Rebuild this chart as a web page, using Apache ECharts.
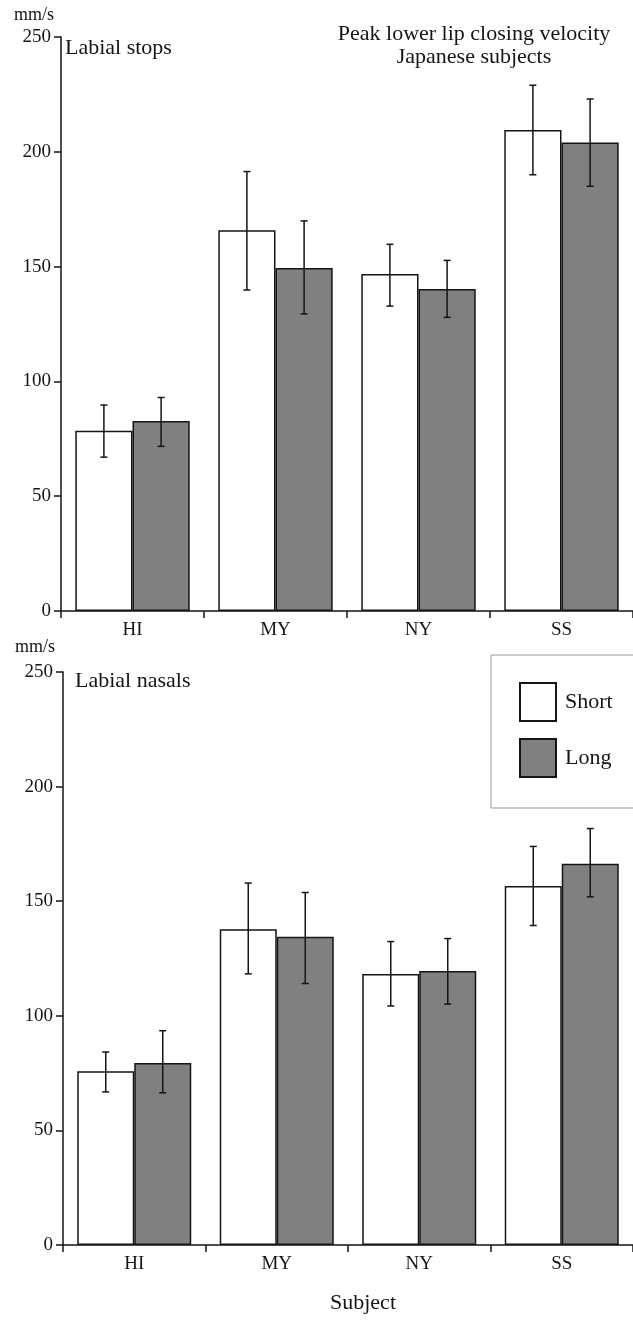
<!DOCTYPE html>
<html>
<head>
<meta charset="utf-8">
<script src="https://cdn.jsdelivr.net/npm/echarts@6/dist/echarts.min.js"></script>
<style>
  html, body { margin: 0; padding: 0; background: #fff; }
  #chart { width: 633px; height: 1320px; }
</style>
</head>
<body>
<div id="chart"></div>
<script>
// Peak lower lip closing velocity, Japanese subjects

var subjects = ['HI', 'MY', 'NY', 'SS'];
var yTicks = [0, 50, 100, 150, 200, 250];

// labial stops
var stopsShort = [78.5, 165.8, 146.8, 209.5];
var stopsShortLow = [67, 139.8, 132.8, 190];
var stopsShortHigh = [89.7, 191.4, 159.7, 229];
var stopsLong = [82.8, 149.4, 140.2, 204];
var stopsLongLow = [71.7, 129.4, 127.9, 185];
var stopsLongHigh = [93, 169.9, 152.7, 223];

// labial nasals
var nasalsShort = [75.8, 137.8, 118.2, 156.6];
var nasalsShortLow = [66.8, 118.3, 104.3, 139.4];
var nasalsShortHigh = [84.2, 157.9, 132.4, 173.9];
var nasalsLong = [79.4, 134.5, 119.6, 166.3];
var nasalsLongLow = [66.4, 114.1, 105.1, 151.9];
var nasalsLongHigh = [93.5, 153.8, 133.7, 181.7];

var FONT = '"Liberation Serif", "DejaVu Serif", serif';
var INK = '#151515';

function errData(low, high) {
    return low.map(function (v, i) { return [i, v, high[i]]; });
}

// side: -1 for the left bar, +1 for the right bar
function errRender(side) {
    return function (params, api) {
        var i = api.value(0);
        var lo = api.coord([i, api.value(1)]);
        var hi = api.coord([i, api.value(2)]);
        var cw = api.size([1, 0])[0];
        var cx = lo[0] + side * cw * 0.2;
        var cap = 3.5;
        var st = { stroke: INK, lineWidth: 1.5 };
        return {
            type: 'group',
            children: [
                { type: 'line', shape: { x1: cx, y1: hi[1], x2: cx, y2: lo[1] }, style: st },
                { type: 'line', shape: { x1: cx - cap, y1: hi[1], x2: cx + cap, y2: hi[1] }, style: st },
                { type: 'line', shape: { x1: cx - cap, y1: lo[1], x2: cx + cap, y2: lo[1] }, style: st }
            ]
        };
    };
}

function xAxis(idx) {
    return {
        type: 'category',
        gridIndex: idx,
        data: subjects,
        axisLine: { lineStyle: { color: INK, width: 1.5 } },
        axisTick: { show: true, length: 7, alignWithLabel: false, lineStyle: { color: INK, width: 1.5 } },
        axisLabel: { color: INK, fontSize: 19, fontFamily: FONT, margin: 10 }
    };
}

function yAxis(idx) {
    return {
        type: 'value',
        gridIndex: idx,
        min: yTicks[0],
        max: yTicks[yTicks.length - 1],
        interval: 50,
        axisLine: { show: true, lineStyle: { color: INK, width: 1.5 } },
        axisTick: { show: true, length: 7, lineStyle: { color: INK, width: 1.5 } },
        axisLabel: { color: INK, fontSize: 19, fontFamily: FONT, margin: 10 },
        splitLine: { show: false }
    };
}

function bars(name, data, idx, fill) {
    return {
        name: name,
        type: 'bar',
        xAxisIndex: idx,
        yAxisIndex: idx,
        data: data,
        barGap: '0%',
        barCategoryGap: '20%',
        itemStyle: { color: fill, borderColor: INK, borderWidth: 1.5 },
        z: 2
    };
}

function errors(name, low, high, idx, side) {
    return {
        name: name,
        type: 'custom',
        xAxisIndex: idx,
        yAxisIndex: idx,
        data: errData(low, high),
        encode: { x: 0, y: [1, 2] },
        renderItem: errRender(side),
        z: 3,
        silent: true
    };
}

function label(text, x, y, size, align) {
    return {
        type: 'text',
        x: x,
        y: y,
        style: {
            text: text,
            fill: INK,
            font: size + 'px ' + FONT,
            textAlign: align || 'left',
            textVerticalAlign: 'middle'
        }
    };
}

var chart = echarts.init(document.getElementById('chart'));
chart.setOption({
    animation: false,
    backgroundColor: '#fff',
    grid: [
        { left: 61, top: 37, width: 575, height: 574 },
        { left: 63, top: 672, width: 576, height: 573 }
    ],
    xAxis: [xAxis(0), xAxis(1)],
    yAxis: [yAxis(0), yAxis(1)],
    legend: {
        data: ['Short', 'Long'],
        orient: 'vertical',
        left: 491,
        top: 655,
        padding: [27, 90, 30, 28],
        itemGap: 16,
        itemWidth: 36,
        itemHeight: 38,
        icon: 'rect',
        borderColor: '#9a9a9a',
        borderWidth: 1,
        itemStyle: { borderColor: INK, borderWidth: 2 },
        textStyle: { color: INK, fontSize: 22, fontFamily: FONT, padding: [0, 0, 0, 4] }
    },
    graphic: [
        label('mm/s', 14, 15, 18),
        label('Labial stops', 65, 48, 22),
        label('Peak lower lip closing velocity', 474, 34, 22, 'center'),
        label('Japanese subjects', 474, 57, 22, 'center'),
        label('mm/s', 15, 647, 18),
        label('Labial nasals', 75, 681, 22),
        label('Subject', 363, 1303, 22, 'center')
    ],
    series: [
        bars('Short', stopsShort, 0, '#ffffff'),
        bars('Long', stopsLong, 0, '#808080'),
        errors('Short range', stopsShortLow, stopsShortHigh, 0, -1),
        errors('Long range', stopsLongLow, stopsLongHigh, 0, 1),
        bars('Short', nasalsShort, 1, '#ffffff'),
        bars('Long', nasalsLong, 1, '#808080'),
        errors('Short range', nasalsShortLow, nasalsShortHigh, 1, -1),
        errors('Long range', nasalsLongLow, nasalsLongHigh, 1, 1)
    ]
});
</script>
</body>
</html>
